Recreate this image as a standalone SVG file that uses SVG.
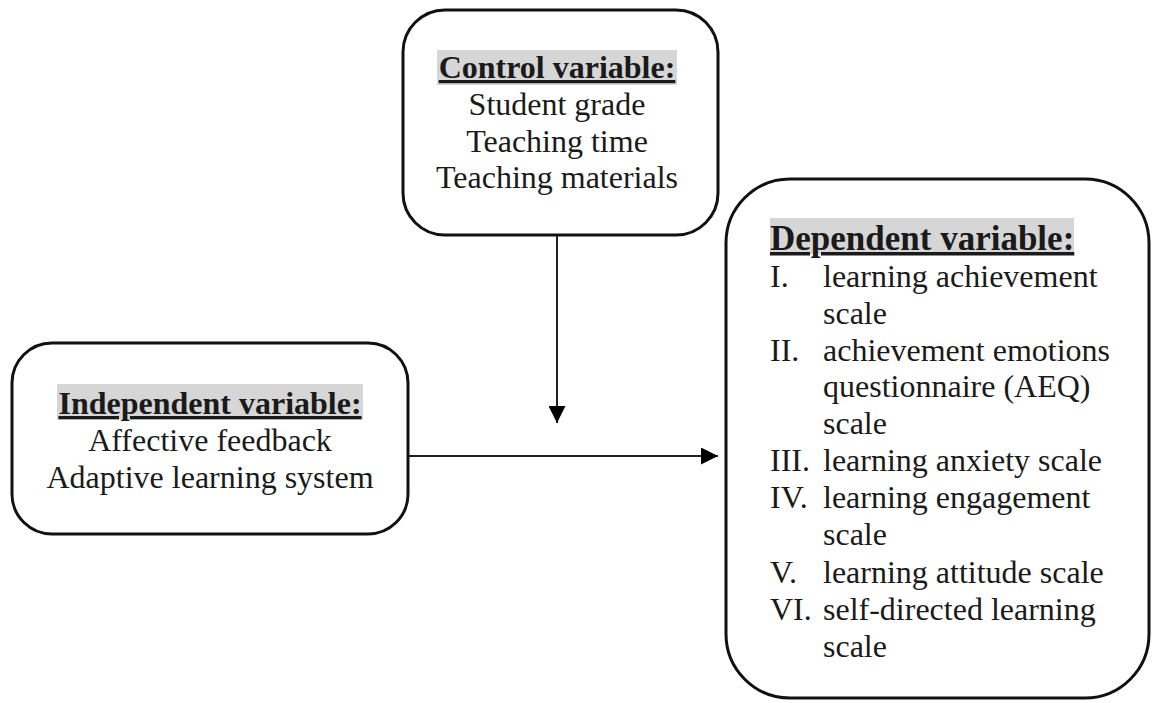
<svg xmlns="http://www.w3.org/2000/svg" width="1152" height="703" viewBox="0 0 1152 703">
<style>
.box{fill:#fff;stroke:#111;stroke-width:3}
.t{font-family:"Liberation Serif","Times New Roman",serif;font-size:32px;fill:#1a1a1a}
.h{font-weight:bold;text-decoration:underline}
.big{font-size:35px}
.hl{fill:#d6d6d6}
.c{text-anchor:middle}
.conn{stroke:#222;stroke-width:2;fill:none}
</style>
<defs>
<marker id="arrh" viewBox="0 0 10 10" refX="10" refY="5" markerWidth="17" markerHeight="17" markerUnits="userSpaceOnUse" orient="auto">
<path d="M0,0 L10,5 L0,10 z" fill="#000"/>
</marker>
</defs>
<rect width="1152" height="703" fill="#fff"/>
<g id="connectors">
<line class="conn" x1="557" y1="235" x2="557" y2="423" marker-end="url(#arrh)"/>
<line class="conn" x1="408" y1="456" x2="718" y2="456" marker-end="url(#arrh)"/>
</g>
<g id="control">
<rect class="box" x="403" y="10" width="315" height="225" rx="42" ry="42"/>
<rect class="hl" x="437" y="50" width="240" height="35"/>
<text class="t h c" x="557" y="78">Control variable:</text>
<text class="t c" x="557" y="115">Student grade</text>
<text class="t c" x="557" y="152">Teaching time</text>
<text class="t c" x="557" y="188">Teaching materials</text>
</g>
<g id="independent">
<rect class="box" x="12" y="343" width="396" height="191" rx="40" ry="40"/>
<rect class="hl" x="57" y="384" width="306" height="36"/>
<text class="t h c" x="210" y="414">Independent variable:</text>
<text class="t c" x="210" y="451">Affective feedback</text>
<text class="t c" x="210" y="488">Adaptive learning system</text>
</g>
<g id="dependent">
<rect class="box" x="726" y="179" width="423" height="519" rx="64" ry="64"/>
<rect class="hl" x="770" y="218" width="304" height="36"/>
<text class="t h big" x="770" y="250">Dependent variable:</text>
<text class="t" x="770" y="287">I.</text><text class="t" x="823" y="287">learning achievement</text>
<text class="t" x="823" y="324">scale</text>
<text class="t" x="770" y="361">II.</text><text class="t" x="823" y="361">achievement emotions</text>
<text class="t" x="823" y="397">questionnaire (AEQ)</text>
<text class="t" x="823" y="434">scale</text>
<text class="t" x="770" y="471">III.</text><text class="t" x="823" y="471">learning anxiety scale</text>
<text class="t" x="770" y="508">IV.</text><text class="t" x="823" y="508">learning engagement</text>
<text class="t" x="823" y="545">scale</text>
<text class="t" x="770" y="583">V.</text><text class="t" x="823" y="583">learning attitude scale</text>
<text class="t" x="770" y="620">VI.</text><text class="t" x="823" y="620">self-directed learning</text>
<text class="t" x="823" y="657">scale</text>
</g>
</svg>
